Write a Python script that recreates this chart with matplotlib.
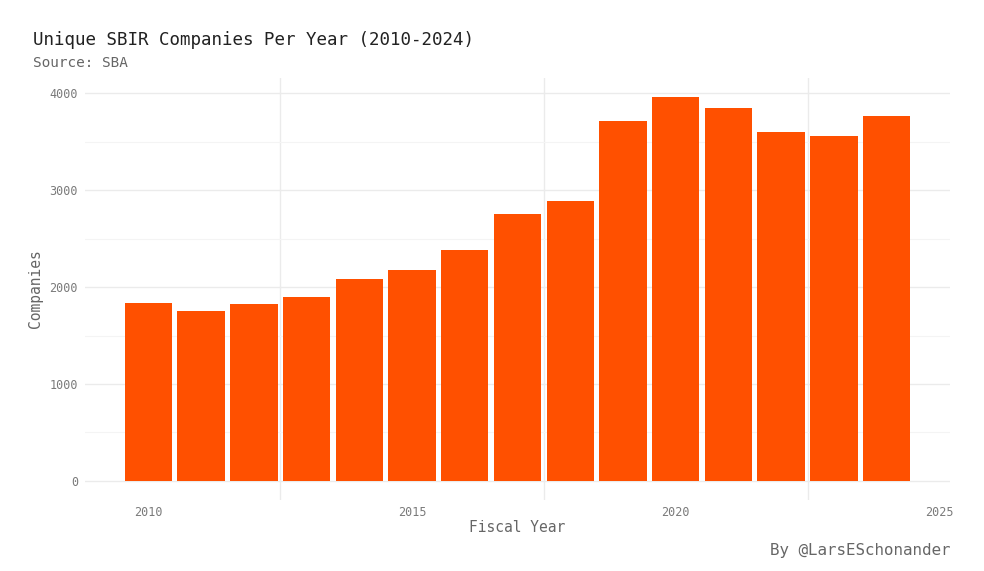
import matplotlib
matplotlib.use('Agg')
import matplotlib.pyplot as plt
from matplotlib.ticker import FixedLocator

# Unique SBIR companies per fiscal year.
years = [2010, 2011, 2012, 2013, 2014, 2015, 2016, 2017, 2018, 2019, 2020, 2021, 2022, 2023, 2024]
companies = [1838, 1755, 1828, 1900, 2085, 2178, 2385, 2756, 2890, 3714, 3962, 3849, 3601, 3560, 3766]
x_ticks = [2010, 2015, 2020, 2025]
y_ticks = [0, 1000, 2000, 3000, 4000]

plt.rcParams['font.family'] = ['DejaVu Sans Mono']

fig = plt.figure(figsize=(9.84, 5.71), dpi=100)
ax = fig.add_axes([85 / 984, 1 - 500 / 571, 865 / 984, 422 / 571])

ax.bar(years, companies, width=0.9, color='#FF5000', zorder=3)

ax.set_xlim(2008.8, 2025.2)
ax.set_ylim(-198, 4158)

ax.xaxis.set_major_locator(FixedLocator(x_ticks))
ax.xaxis.set_minor_locator(FixedLocator([2012.5, 2017.5, 2022.5]))
ax.yaxis.set_major_locator(FixedLocator(y_ticks))
ax.yaxis.set_minor_locator(FixedLocator([500, 1500, 2500, 3500]))

ax.grid(False)
ax.grid(which='minor', axis='x', color='#ebebeb', linewidth=1.0, zorder=0)
ax.grid(which='major', axis='y', color='#ebebeb', linewidth=1.0, zorder=0)
ax.grid(which='minor', axis='y', color='#f4f4f4', linewidth=0.8, zorder=0)

for s in ax.spines.values():
    s.set_visible(False)
ax.tick_params(which='both', length=0)
ax.tick_params(axis='x', pad=4, labelsize=8.5, labelcolor='#7a7a7a')
ax.tick_params(axis='y', pad=5, labelsize=8.5, labelcolor='#7a7a7a')

ax.set_xlabel('Fiscal Year', fontsize=10.5, color='#666666', labelpad=1)
ax.set_ylabel('Companies', fontsize=10.5, color='#666666', labelpad=5)

fig.text(33 / 984, 1 - 40 / 571, 'Unique SBIR Companies Per Year (2010-2024)',
         fontsize=12.6, color='#222222', va='center', ha='left')
fig.text(33 / 984, 1 - 63 / 571, 'Source: SBA',
         fontsize=10.4, color='#666666', va='center', ha='left')
fig.text(950 / 984, 1 - 550 / 571, 'By @LarsESchonander',
         fontsize=11.4, color='#666666', va='center', ha='right')

fig.savefig('out.png', dpi=100, facecolor='white')
